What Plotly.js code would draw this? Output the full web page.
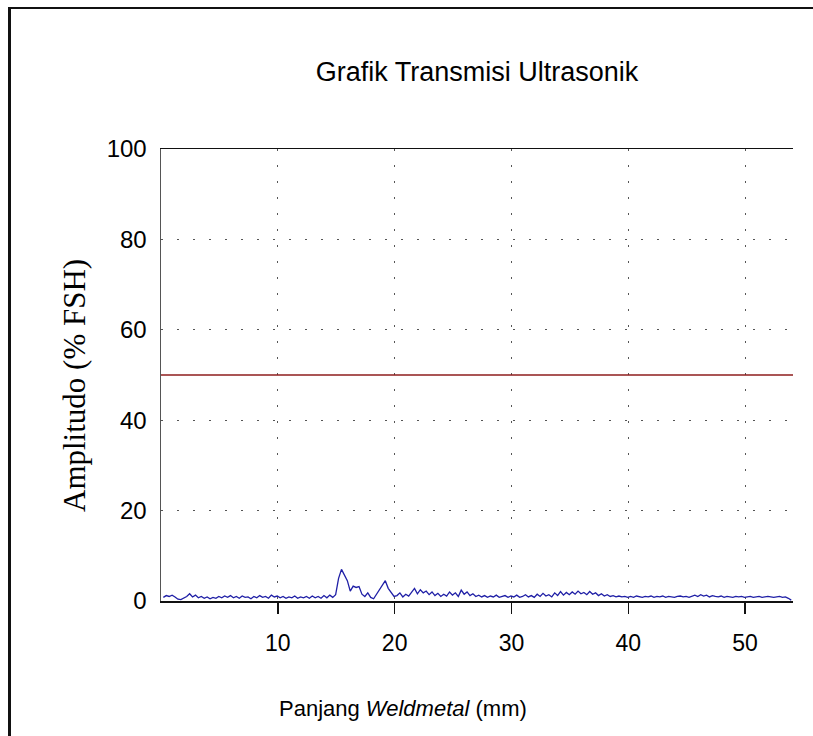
<!DOCTYPE html>
<html>
<head>
<meta charset="utf-8">
<script src="https://cdn.plot.ly/plotly-3.0.1.min.js"></script>
<style>
  html, body { margin: 0; padding: 0; background: #fff; overflow: hidden; }
  #chart { width: 813px; height: 736px; }
</style>
</head>
<body>
<div id="chart"></div>
<script>
// ---- data ----
const titleText = "Grafik Transmisi Ultrasonik";
const xTitleText = "Panjang <i>Weldmetal</i> (mm)";
const yTitleText = "Amplitudo (% FSH)";

const xTickVals = [10, 20, 30, 40, 50];
const yTickVals = [0, 20, 40, 60, 80, 100];

// sample positions along the weld (mm): start and spacing
const sampleStart = 0.2;
const sampleStep = 0.25;

// amplitude readings (% FSH)
const amplitude = [
  0.8,1.2,1.0,1.3,0.9,0.4,0.3,0.6,1.0,1.6,0.9,1.3,0.7,1.0,0.6,0.9,0.5,0.8,0.6,1.0,
  0.7,1.1,0.8,1.2,0.7,1.0,0.6,1.1,0.8,0.9,0.5,1.0,0.7,1.2,0.8,1.0,0.6,1.3,0.9,1.1,
  0.7,1.0,0.6,0.9,0.7,1.1,0.6,0.9,0.7,1.0,0.6,1.1,0.7,1.0,0.6,1.2,0.7,1.3,0.8,1.4,
  5.0,7.0,5.8,4.5,2.2,3.3,3.0,3.2,1.5,1.0,1.8,0.8,0.5,1.5,2.3,3.5,4.5,2.8,1.8,1.0,
  1.2,1.8,0.9,1.5,1.1,2.0,2.8,1.6,2.5,1.8,2.2,1.4,2.0,1.2,1.7,1.0,1.5,1.1,2.0,1.3,
  1.8,1.0,2.4,1.5,2.0,1.2,1.6,1.0,1.3,0.9,1.2,0.8,1.1,0.9,1.3,0.8,1.0,1.2,0.8,1.1,
  0.9,1.3,0.8,1.0,1.4,0.9,1.2,0.8,1.5,1.0,1.7,1.1,1.4,0.9,1.8,1.2,2.1,1.3,1.9,1.4,
  2.0,1.5,2.2,1.6,1.9,1.4,2.1,1.5,1.8,1.2,1.6,1.1,1.4,1.0,1.2,0.9,1.1,0.9,1.0,0.8,
  1.0,0.8,1.1,0.9,0.8,1.0,0.9,1.1,0.8,1.0,
  0.9,1.1,0.8,1.0,0.9,0.8,1.0,1.1,0.9,1.0,
  0.8,1.1,1.3,1.0,1.4,1.1,1.3,0.9,1.2,1.0,
  0.9,1.1,0.8,1.0,0.9,0.8,1.0,0.9,1.0,0.8,
  0.9,1.0,0.8,0.9,1.0,0.8,0.9,1.0,0.9,0.8,
  0.9,1.0,0.8,0.9,0.6,0.2
];

// reference (threshold) level
const thresholdX = [0, 54.1];
const thresholdY = [50, 50];

const xRange = [0, 54.1];
const yRange = [0, 100];

// ---- plot ----
const traces = [
  {
    type: "scatter", mode: "lines",
    x: thresholdX, y: thresholdY,
    line: { color: "#8e1c1c", width: 1.4 },
    hoverinfo: "skip", showlegend: false
  },
  {
    type: "scatter", mode: "lines",
    x0: sampleStart, dx: sampleStep, y: amplitude,
    line: { color: "#1f1fa6", width: 1.3 },
    showlegend: false
  }
];

const W = 813, H = 736;
const mL = 161, mR = 20, mT = 149, mB = 135;
const pw = W - mL - mR, ph = H - mT - mB;
const px2x = p => (p - mL) / pw;          // pixel x -> paper x
const px2y = p => ((H - mB) - p) / ph;    // pixel y -> paper y

const layout = {
  width: W, height: H,
  margin: { l: mL, r: mR, t: mT, b: mB, pad: 0 },
  paper_bgcolor: "#fff", plot_bgcolor: "#fff",
  showlegend: false,
  title: {
    text: titleText,
    font: { family: "Liberation Sans, Arial, sans-serif", size: 27, color: "#000" },
    xref: "paper", x: 0.5, xanchor: "center",
    yref: "container", y: 1 - 72 / H, yanchor: "middle"
  },
  xaxis: {
    range: xRange, tickvals: xTickVals, ticktext: xTickVals.map(String),
    ticks: "outside", ticklen: 11, tickwidth: 1.5, tickcolor: "#111",
    showline: true, linecolor: "#111", linewidth: 1.5, mirror: true,
    showgrid: true, gridcolor: "#555", gridwidth: 1, griddash: "2px,14px",
    zeroline: false,
    tickfont: { family: "Liberation Sans, Arial, sans-serif", size: 23, color: "#000" },
    ticklabelstandoff: 10
  },
  yaxis: {
    range: yRange, tickvals: yTickVals, ticktext: yTickVals.map(String),
    ticks: "", showline: true, linecolor: "#555", linewidth: 1.5, mirror: false,
    showgrid: true, gridcolor: "#555", gridwidth: 1, griddash: "2px,14px",
    zeroline: false,
    tickfont: { family: "Liberation Sans, Arial, sans-serif", size: 24, color: "#000" },
    ticklabelstandoff: 8
  },
  shapes: [
    { type: "line", xref: "paper", yref: "paper", layer: "above",
      x0: px2x(9.5), x1: px2x(9.5), y0: px2y(7), y1: px2y(740),
      line: { color: "#111", width: 3 } },
    { type: "line", xref: "paper", yref: "paper", layer: "above",
      x0: px2x(8), x1: px2x(820), y0: px2y(8), y1: px2y(8),
      line: { color: "#111", width: 2 } }
  ],
  annotations: [
    {
      text: xTitleText, xref: "paper", yref: "paper",
      x: px2x(403), y: px2y(708),
      xanchor: "center", yanchor: "middle", showarrow: false,
      font: { family: "Liberation Sans, Arial, sans-serif", size: 22, color: "#000" }
    },
    {
      text: yTitleText, xref: "paper", yref: "paper",
      x: px2x(74), y: px2y(385),
      xanchor: "center", yanchor: "middle", textangle: -90, showarrow: false,
      font: { family: "Liberation Serif, Times New Roman, serif", size: 31, color: "#000" }
    }
  ]
};

Plotly.newPlot("chart", traces, layout, { displayModeBar: false, staticPlot: true });
</script>
</body>
</html>
